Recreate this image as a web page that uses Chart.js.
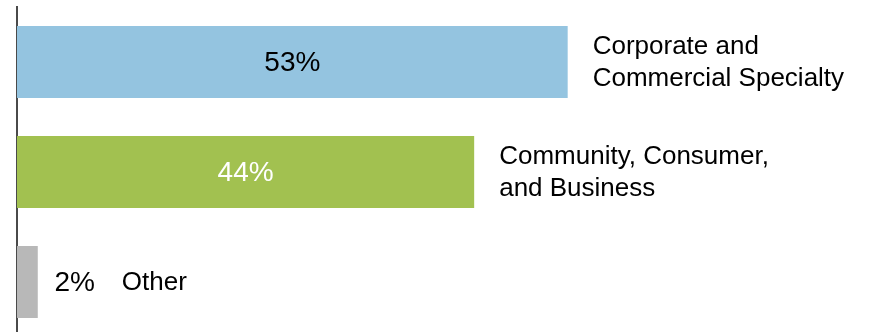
<!DOCTYPE html>
<html>
<head>
<meta charset="utf-8">
<script src="https://cdn.jsdelivr.net/npm/chart.js@4"></script>
<style>
  html, body { margin: 0; padding: 0; background: #fff; overflow: hidden; }
  #wrap { width: 869px; height: 337px; position: relative; }
</style>
</head>
<body>
<div id="wrap"><canvas id="chartCanvas"></canvas></div>
<script>
// segment shares, top to bottom
const segments = [
  ["Corporate and", "Commercial Specialty"],
  ["Community, Consumer,", "and Business"],
  ["Other"]
];
const shares = [53, 44, 2];
const barColors = ["#94c4e0", "#a2c150", "#b8b8b8"];
const valueColors = ["#000000", "#ffffff", "#000000"];

const FONT = "'Liberation Sans', Arial, sans-serif";

// draws the % values and segment names next to each bar
const barLabels = {
  id: "barLabels",
  afterDatasetsDraw(chart) {
    const ctx = chart.ctx;
    const meta = chart.getDatasetMeta(0);
    ctx.save();
    ctx.textBaseline = "middle";
    meta.data.forEach((bar, i) => {
      const inside = shares[i] > 10;
      const end = bar.x;
      const y = bar.y;
      ctx.font = "28px " + FONT;
      ctx.textAlign = "center";
      ctx.fillStyle = valueColors[i];
      let nameX;
      if (inside) {
        ctx.fillText(shares[i] + "%", (bar.base + end) / 2, y + 1);
        nameX = end + 25;
      } else {
        ctx.fillText(shares[i] + "%", end + 37, y + 1);
        nameX = end + 84;
      }
      ctx.font = "26px " + FONT;
      ctx.textAlign = "left";
      ctx.fillStyle = "#000000";
      const lines = segments[i];
      const lh = 32;
      lines.forEach((line, j) => {
        ctx.fillText(line, nameX, y + 1 + (j - (lines.length - 1) / 2) * lh);
      });
    });
    ctx.restore();
  }
};

new Chart(document.getElementById("chartCanvas"), {
  type: "bar",
  data: {
    labels: segments.map(s => s.join(" ")),
    datasets: [{
      data: shares,
      backgroundColor: barColors,
      borderWidth: 0,
      barPercentage: 0.655,
      categoryPercentage: 1
    }]
  },
  options: {
    indexAxis: "y",
    responsive: true,
    maintainAspectRatio: false,
    animation: false,
    layout: { padding: { left: 9, top: 7, right: 0, bottom: 0 } },
    plugins: {
      legend: { display: false },
      tooltip: { enabled: false }
    },
    scales: {
      x: { display: false, min: 0, max: 82 },
      y: {
        ticks: { display: false },
        grid: { display: false },
        border: { display: true, color: "#4a4a4a", width: 2 }
      }
    }
  },
  plugins: [barLabels]
});
</script>
</body>
</html>
